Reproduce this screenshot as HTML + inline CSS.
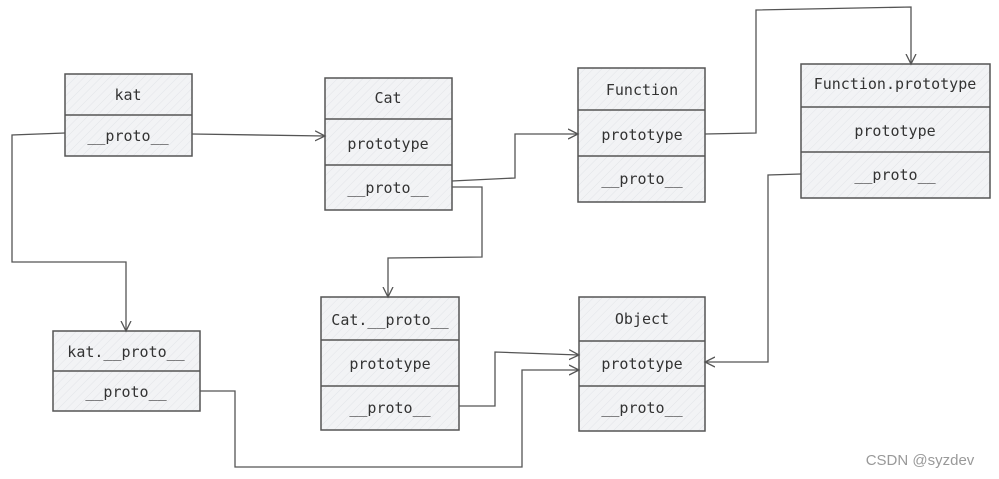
<!DOCTYPE html>
<html><head><meta charset="utf-8"><style>
html,body{margin:0;padding:0;background:#fff;width:999px;height:479px;overflow:hidden}
svg text{font-family:"DejaVu Sans Mono","Liberation Mono",monospace;font-size:15px;fill:#333;text-anchor:middle}
</style></head><body>
<svg width="999" height="479" viewBox="0 0 999 479" xmlns="http://www.w3.org/2000/svg">
<defs>
<pattern id="h" width="6" height="6" patternUnits="userSpaceOnUse" patternTransform="rotate(45)">
<rect width="6" height="6" fill="#f2f3f5"/><line x1="0" y1="0" x2="0" y2="6" stroke="#e2e4e8" stroke-width="1"/>
</pattern>
<marker id="a" markerWidth="12" markerHeight="12" refX="10" refY="6" orient="auto" markerUnits="userSpaceOnUse">
<path d="M0,1 L10,6 L0,11" fill="none" stroke="#555" stroke-width="1.3"/>
</marker>
</defs>
<g fill="url(#h)" stroke="#555" stroke-width="1.5">
<rect x="65" y="74" width="127" height="82"/><line x1="65" y1="115" x2="192" y2="115"/>
<rect x="325" y="78" width="127" height="132"/><line x1="325" y1="119" x2="452" y2="119"/><line x1="325" y1="165" x2="452" y2="165"/>
<rect x="578" y="68" width="127" height="134"/><line x1="578" y1="110" x2="705" y2="110"/><line x1="578" y1="156" x2="705" y2="156"/>
<rect x="801" y="64" width="189" height="134"/><line x1="801" y1="107" x2="990" y2="107"/><line x1="801" y1="152" x2="990" y2="152"/>
<rect x="53" y="331" width="147" height="80"/><line x1="53" y1="371" x2="200" y2="371"/>
<rect x="321" y="297" width="138" height="133"/><line x1="321" y1="340" x2="459" y2="340"/><line x1="321" y1="386" x2="459" y2="386"/>
<rect x="579" y="297" width="126" height="134"/><line x1="579" y1="341" x2="705" y2="341"/><line x1="579" y1="386" x2="705" y2="386"/>
</g>
<g>
<text x="128" y="100">kat</text><text x="128" y="141">__proto__</text>
<text x="388" y="103">Cat</text><text x="388" y="149">prototype</text><text x="388" y="193">__proto__</text>
<text x="642" y="95">Function</text><text x="642" y="140">prototype</text><text x="642" y="184">__proto__</text>
<text x="895" y="89">Function.prototype</text><text x="895" y="136">prototype</text><text x="895" y="180">__proto__</text>
<text x="126" y="357">kat.__proto__</text><text x="126" y="397">__proto__</text>
<text x="390" y="325">Cat.__proto__</text><text x="390" y="369">prototype</text><text x="390" y="413">__proto__</text>
<text x="642" y="324">Object</text><text x="642" y="369">prototype</text><text x="642" y="413">__proto__</text>
</g>
<g fill="none" stroke="#555" stroke-width="1.3">
<polyline points="192,134 325,136" marker-end="url(#a)"/>
<polyline points="65,133 12,135 12,262 126,262 126,331" marker-end="url(#a)"/>
<polyline points="452,181 515,178 515,134 578,134" marker-end="url(#a)"/>
<polyline points="452,187 482,187 482,257 388,258 388,297" marker-end="url(#a)"/>
<polyline points="705,134 756,133 756,10 911,7 911,64" marker-end="url(#a)"/>
<polyline points="801,174 768,175 768,362 705,362" marker-end="url(#a)"/>
<polyline points="459,406 495,406 495,352 579,355" marker-end="url(#a)"/>
<polyline points="200,391 235,391 235,467 522,467 522,370 579,370" marker-end="url(#a)"/>
</g>
<text x="920" y="465" style="font-family:'Liberation Sans',sans-serif;font-size:15px;fill:#999">CSDN @syzdev</text>
</svg>
</body></html>
